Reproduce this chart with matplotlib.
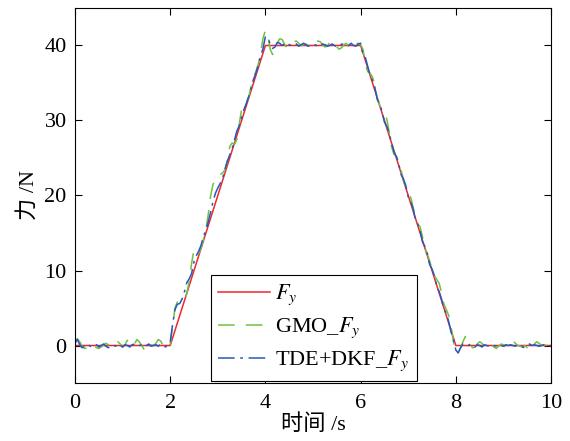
import numpy as np
import matplotlib
matplotlib.use("Agg")
import matplotlib.pyplot as plt

plt.rcParams['font.family'] = ['Liberation Serif', 'Noto Sans CJK SC']
plt.rcParams['mathtext.fontset'] = 'stix'
plt.rcParams['lines.scale_dashes'] = False

# Commanded force profile (breakpoints)
ref_t = [0, 2, 4, 6, 8, 10]
ref_f = [0, 0, 40, 40, 0, 0]

# Sample step of the estimated signals
dt = 0.05

# GMO estimate, split by phase of the profile
gmo_rest1 = [0.8, 0.9, 0.5, -0.1, -0.4, -0.3, 0.0, 0.2, 0.0, -0.3,
             -0.4, -0.2, 0.1, 0.3, 0.1, -0.2, -0.1, 0.3, 0.5, 0.2,
             -0.2, 0.1, 0.7, 0.4, -0.1, 0.2, 0.8, 0.5, 0.0, -0.5,
             -0.8, -0.3, 0.1, 0.0, 0.3, 0.8, 0.6, 0.0, -0.4, -0.3,
             0.2]
gmo_rise = [2.5, 5.0, 5.8, 5.9, 5.8, 6.0, 7.0, 8.5, 11.0, 12.8,
            12.5, 12.2, 13.0, 14.2, 15.5, 17.5, 20.0, 21.5, 22.3, 22.6,
            22.8, 23.0, 23.4, 24.5, 26.5, 27.0, 26.8, 27.5, 29.5, 31.5,
            32.2, 32.4, 33.2, 34.5, 35.8, 36.5, 37.5, 39.0, 41.0, 42.0]
gmo_hold = [41.5, 39.5, 38.8, 39.3, 40.3, 40.9, 40.8, 40.2, 39.7, 39.8,
            40.3, 40.5, 40.6, 40.3, 40.0, 40.1, 40.2, 40.0, 39.8, 39.9,
            40.3, 40.6, 40.5, 40.1, 39.8, 39.9, 40.4, 40.6, 40.3, 39.8,
            39.5, 39.7, 40.1, 40.3, 39.8, 39.6, 39.7, 40.2, 40.3, 40.1]
gmo_fall = [39.5, 37.5, 36.5, 36.3, 35.8, 34.5, 33.0, 32.0, 31.3, 31.0,
            30.2, 28.5, 26.5, 25.5, 25.2, 24.5, 23.4, 22.0, 21.0, 20.5,
            19.8, 18.5, 17.0, 16.2, 15.8, 14.5, 13.0, 12.2, 11.3, 10.2,
            9.3, 8.8, 8.3, 7.0, 5.5, 4.8, 4.0, 2.5, 0.5, -0.8]
gmo_rest2 = [-0.9, -0.3, 0.5, 1.2, 1.0, 0.2, -0.3, -0.2, 0.2, 0.5,
             0.3, -0.1, -0.3, -0.1, 0.1, -0.2, -0.4, -0.1, 0.2, 0.1,
             -0.2, 0.1, 0.4, 0.6, 0.3, 0.0, -0.1, -0.2, 0.0, -0.3,
             -0.8, -0.5, 0.2, 0.5, 0.3, 0.0, 0.1, 0.0, -0.1, 0.1]

# TDE+DKF estimate, split the same way
dkf_rest1 = [0.3, 0.8, 0.1, -0.3, -0.1, 0.2, 0.0, -0.2, -0.1, 0.1,
             -0.2, 0.0, 0.2, -0.1, -0.3, 0.0, 0.1, -0.1, 0.2, 0.0,
             -0.2, 0.1, 0.0, -0.2, 0.1, 0.2, -0.1, 0.0, 0.1, -0.2,
             0.0, 0.2, -0.1, 0.0, 0.1, -0.1, 0.2, 0.0, -0.2, 0.1,
             0.5]
dkf_rise = [2.8, 4.8, 5.5, 5.6, 6.2, 7.2, 8.4, 8.9, 9.6, 11.2,
            12.0, 12.6, 13.4, 14.6, 15.3, 16.5, 17.8, 19.2, 20.3, 21.0,
            21.6, 22.3, 23.5, 24.6, 25.4, 26.2, 27.4, 28.6, 29.3, 30.4,
            31.5, 32.3, 33.2, 34.4, 35.5, 36.3, 37.4, 38.6, 39.6, 41.2]
dkf_hold = [41.0, 40.2, 39.6, 39.8, 40.4, 40.3, 40.0, 40.2, 40.4, 40.1,
            40.0, 40.3, 40.2, 39.9, 40.1, 40.3, 40.1, 39.9, 40.0, 40.2,
            40.1, 39.8, 40.0, 40.2, 40.1, 39.9, 40.0, 40.2, 40.0, 39.8,
            39.9, 40.2, 40.1, 39.9, 40.0, 40.3, 40.0, 39.9, 40.2, 40.3]
dkf_fall = [38.8, 38.4, 37.2, 36.0, 35.3, 34.4, 32.8, 32.2, 31.2, 29.8,
            29.2, 28.3, 27.0, 25.8, 25.2, 24.2, 22.8, 22.2, 21.3, 19.8,
            19.2, 18.3, 16.8, 16.2, 15.3, 13.8, 13.2, 12.3, 10.8, 10.2,
            9.3, 7.8, 7.2, 6.2, 4.8, 4.3, 3.2, 1.8, 0.8, -0.6]
dkf_rest2 = [-1.0, -0.3, 0.2, 0.1, -0.1, 0.2, 0.0, -0.2, 0.1, 0.0,
             -0.2, 0.1, 0.0, -0.1, 0.1, 0.0, -0.1, 0.1, 0.0, -0.1,
             0.1, 0.0, 0.1, 0.0, -0.1, 0.1, 0.0, -0.2, -0.3, 0.0,
             0.2, 0.0, 0.1, 0.0, -0.1, 0.0, 0.1, 0.0, -0.1, 0.0]

gmo = np.concatenate([gmo_rest1, gmo_rise, gmo_hold, gmo_fall, gmo_rest2])
dkf = np.concatenate([dkf_rest1, dkf_rise, dkf_hold, dkf_fall, dkf_rest2])
t_gmo = np.arange(len(gmo)) * dt
t_dkf = np.arange(len(dkf)) * dt

fig = plt.figure(figsize=(5.70, 4.41), dpi=100)
ax = fig.add_axes([0.1316, 0.1315, 0.8351, 0.8504])

ax.plot(ref_t, ref_f, color='#f0262b', lw=1.1, label=r'$F_y$')
ax.plot(t_gmo, gmo, color='#72be44', lw=1.1, dashes=(12, 8),
        label=r'GMO_$F_y$')
ax.plot(t_dkf, dkf, color='#2458c0', lw=1.1, dashes=(12, 4, 2, 4),
        label=r'TDE+DKF_$F_y$')

ax.set_xlim(0, 10)
ax.set_ylim(-5, 45)
ax.set_xticks([0, 2, 4, 6, 8, 10])
ax.set_yticks([0, 10, 20, 30, 40])
ax.tick_params(direction='in', top=True, right=True, labelsize=16,
               length=5, width=0.8)
ax.tick_params(axis='x', pad=8)
ax.tick_params(axis='y', pad=6)
for s in ax.spines.values():
    s.set_linewidth(0.8)

ax.set_xlabel('时间 /s', fontsize=16, labelpad=1)
ax.set_ylabel('力 /N', fontsize=16, labelpad=4)

leg = ax.legend(loc='lower left', bbox_to_anchor=(0.285, 0.005),
                borderaxespad=0, fancybox=False, edgecolor='black',
                framealpha=1, fontsize=16, handlelength=2.3,
                handletextpad=0.25, labelspacing=0.38, borderpad=0.35)
leg.get_frame().set_linewidth(0.8)

fig.savefig('out.png', dpi=100)
